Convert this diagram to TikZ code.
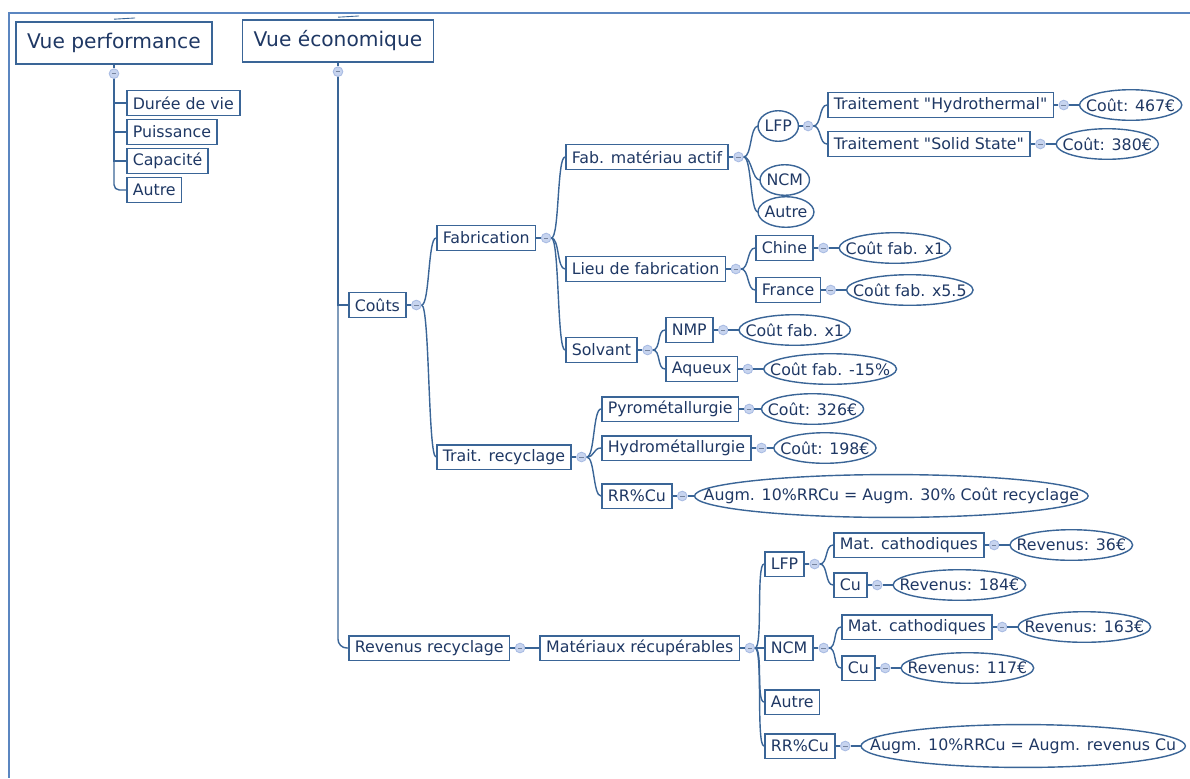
\documentclass[tikz,border=0pt]{standalone}
\usepackage{fontspec}
\setmainfont{DejaVu Sans}
\usetikzlibrary{positioning,calc}
\definecolor{mapline}{HTML}{3A6597}
\definecolor{maptext}{HTML}{1F3864}
\definecolor{knobfill}{HTML}{C7D4EF}
\definecolor{knobdraw}{HTML}{A9BCE3}
\definecolor{framecol}{HTML}{5B86C0}

\begin{document}
\begin{tikzpicture}[x=0.02cm,y=-0.02cm,
  every node/.style={text=maptext,font=\fontsize{9}{10}\selectfont},
  topic/.style={draw=mapline,line width=0.9pt,fill=white,inner xsep=3.4pt,inner ysep=0pt,minimum height=14pt,anchor=west},
  central/.style={topic,anchor=center,inner xsep=6.5pt,minimum height=24pt,font=\fontsize{11.5}{13}\selectfont},
  oval/.style={inner xsep=3.5pt,inner ysep=0pt,minimum height=17pt},
  bigoval/.style={oval,inner xsep=5pt,minimum height=24pt},
  knob/.style={circle,draw=knobdraw,fill=knobfill,line width=0.5pt,minimum size=5.5pt,inner sep=0pt,
    path picture={\draw[knobdraw!70!black,line width=0.4pt] ([xshift=-1.3pt]path picture bounding box.center) -- ([xshift=1.3pt]path picture bounding box.center);}},
  link/.style={draw=mapline,line width=0.8pt},
  twig/.style={to path={.. controls +(8,0) and +(-8,0) .. (\tikztotarget) \tikztonodes}}]
\useasboundingbox (0,0) rectangle (1190,778);
\draw[framecol,line width=0.9pt] (1190,13) -- (9,13) -- (9,778);

\node[central] (perf) at (114,43) {Vue performance};
\node[knob,below=2pt of perf] (perfk) {};
\node[topic] (duree) at (126,103) {Durée de vie};
\node[topic] (puiss) at (126,132) {Puissance};
\node[topic] (capa) at (126,161) {Capacité};
\node[topic] (autreP) at (126,190) {Autre};

\node[central] (eco) at (338,41) {Vue économique};
\node[knob,below=2pt of eco] (ecok) {};
\node[topic] (couts) at (348,305) {Coûts};
\node[knob,right=2.5pt of couts] (coutsk) {};

\node[topic] (fabr) at (436,238) {Fabrication};
\node[knob,right=2.5pt of fabr] (fabrk) {};
\node[topic] (fabmat) at (565,157) {Fab. matériau actif};
\node[knob,right=2.5pt of fabmat] (fabmatk) {};
\node[oval,anchor=west] (lfpA) at (758,126) {LFP};
\node[knob,right=2.5pt of lfpA] (lfpAk) {};
\node[oval,anchor=west] (ncmA) at (760,180) {NCM};
\node[oval,anchor=west] (autA) at (758,212) {Autre};
\node[topic] (hydro) at (827,105) {Traitement \textquotedbl Hydrothermal\textquotedbl};
\node[knob,right=2.5pt of hydro] (hydrok) {};
\node[oval,right=6pt of hydrok] (c467) {Coût: 467€};
\node[topic] (solid) at (827,144) {Traitement \textquotedbl Solid State\textquotedbl};
\node[knob,right=2.5pt of solid] (solidk) {};
\node[oval,right=6pt of solidk] (c380) {Coût: 380€};

\node[topic] (lieu) at (565,269) {Lieu de fabrication};
\node[knob,right=2.5pt of lieu] (lieuk) {};
\node[topic] (chine) at (755,248) {Chine};
\node[knob,right=2.5pt of chine] (chinek) {};
\node[oval,right=6pt of chinek] (cx1) {Coût fab. x1};
\node[topic] (france) at (755,290) {France};
\node[knob,right=2.5pt of france] (francek) {};
\node[oval,right=6pt of francek] (cx55) {Coût fab. x5.5};

\node[topic] (solv) at (565,350) {Solvant};
\node[knob,right=2.5pt of solv] (solvk) {};
\node[topic] (nmp) at (665,330) {NMP};
\node[knob,right=2.5pt of nmp] (nmpk) {};
\node[oval,right=6pt of nmpk] (nx1) {Coût fab. x1};
\node[topic] (aqueux) at (665,369) {Aqueux};
\node[knob,right=2.5pt of aqueux] (aqueuxk) {};
\node[oval,right=6pt of aqueuxk] (aq15) {Coût fab. -15\%};

\node[topic] (trait) at (436,457) {Trait. recyclage};
\node[knob,right=2.5pt of trait] (traitk) {};
\node[topic] (pyro) at (601,409) {Pyrométallurgie};
\node[knob,right=2.5pt of pyro] (pyrok) {};
\node[oval,right=4pt of pyrok] (c326) {Coût: 326€};
\node[topic] (hydromet) at (601,448) {Hydrométallurgie};
\node[knob,right=2.5pt of hydromet] (hydrometk) {};
\node[oval,right=4pt of hydrometk] (c198) {Coût: 198€};
\node[topic] (rrA) at (601,496) {RR\%Cu};
\node[knob,right=2.5pt of rrA] (rrAk) {};
\node[bigoval,right=4pt of rrAk] (augA) {Augm. 10\%RRCu = Augm. 30\% Coût recyclage};

\node[topic] (rev) at (348,648) {Revenus recyclage};
\node[knob,right=2.5pt of rev] (revk) {};
\node[topic,right=8pt of revk] (mat) {Matériaux récupérables};
\node[knob,right=2.5pt of mat] (matk) {};
\node[topic] (lfpB) at (764,564) {LFP};
\node[knob,right=2.5pt of lfpB] (lfpBk) {};
\node[topic] (ncmB) at (764,648) {NCM};
\node[knob,right=2.5pt of ncmB] (ncmBk) {};
\node[topic] (autB) at (764,702) {Autre};
\node[topic] (rrB) at (764,746) {RR\%Cu};
\node[knob,right=2.5pt of rrB] (rrBk) {};
\node[bigoval,right=6pt of rrBk] (augB) {Augm. 10\%RRCu = Augm. revenus Cu};
\node[topic] (matcA) at (833,545) {Mat. cathodiques};
\node[knob,right=2.5pt of matcA] (matcAk) {};
\node[oval,right=6pt of matcAk] (r36) {Revenus: 36€};
\node[topic] (cuA) at (833,585) {Cu};
\node[knob,right=2.5pt of cuA] (cuAk) {};
\node[oval,right=6pt of cuAk] (r184) {Revenus: 184€};
\node[topic] (matcB) at (841,627) {Mat. cathodiques};
\node[knob,right=2.5pt of matcB] (matcBk) {};
\node[oval,right=6pt of matcBk] (r163) {Revenus: 163€};
\node[topic] (cuB) at (841,668) {Cu};
\node[knob,right=2.5pt of cuB] (cuBk) {};
\node[oval,right=6pt of cuBk] (r117) {Revenus: 117€};

\draw[link,line width=0.5pt] ([yshift=1.1pt]perf.north) -- ([xshift=12pt,yshift=1.8pt]perf.north);
\draw[link,line width=0.5pt] ([yshift=1.1pt]eco.north) -- ([xshift=12pt,yshift=1.8pt]eco.north);

\draw[link] (perf.south) -- (perfk.north);
\draw[link] (perfk.south) |- (duree.west);
\draw[link] (perfk.south) |- (puiss.west);
\draw[link] (perfk.south) |- (capa.west);
\draw[link,rounded corners=3pt] (perfk.south) |- (autreP.west);

\draw[link] (eco.south) -- (ecok.north);
\draw[link] (ecok.south) |- (couts.west);
\draw[link,rounded corners=5pt] (ecok.south) |- (rev.west);
\draw[link] (couts.east) -- (coutsk.west);
\draw[link] (coutsk.east) to[twig] (fabr.west);
\draw[link] (coutsk.east) to[twig] (trait.west);

\draw[link] (fabr.east) -- (fabrk.west);
\draw[link] (fabrk.east) to[twig] (fabmat.west);
\draw[link] (fabrk.east) to[twig] (lieu.west);
\draw[link] (fabrk.east) to[twig] (solv.west);
\draw[link] (fabmat.east) -- (fabmatk.west);
\draw[link] (fabmatk.east) to[twig] (lfpA.west);
\draw[link] (fabmatk.east) to[twig] (ncmA.west);
\draw[link] (fabmatk.east) to[twig] (autA.west);
\draw[link] (lfpA.east) -- (lfpAk.west);
\draw[link] (lfpAk.east) to[twig] (hydro.west);
\draw[link] (lfpAk.east) to[twig] (solid.west);
\draw[link] (hydro.east) -- (hydrok.west);
\draw[link] (hydrok.east) -- (c467.west);
\draw[link] (solid.east) -- (solidk.west);
\draw[link] (solidk.east) -- (c380.west);

\draw[link] (lieu.east) -- (lieuk.west);
\draw[link] (lieuk.east) to[twig] (chine.west);
\draw[link] (lieuk.east) to[twig] (france.west);
\draw[link] (chine.east) -- (chinek.west);
\draw[link] (chinek.east) -- (cx1.west);
\draw[link] (france.east) -- (francek.west);
\draw[link] (francek.east) -- (cx55.west);

\draw[link] (solv.east) -- (solvk.west);
\draw[link] (solvk.east) to[twig] (nmp.west);
\draw[link] (solvk.east) to[twig] (aqueux.west);
\draw[link] (nmp.east) -- (nmpk.west);
\draw[link] (nmpk.east) -- (nx1.west);
\draw[link] (aqueux.east) -- (aqueuxk.west);
\draw[link] (aqueuxk.east) -- (aq15.west);

\draw[link] (trait.east) -- (traitk.west);
\draw[link] (traitk.east) to[twig] (pyro.west);
\draw[link] (traitk.east) to[twig] (hydromet.west);
\draw[link] (traitk.east) to[twig] (rrA.west);
\draw[link] (pyro.east) -- (pyrok.west);
\draw[link] (pyrok.east) -- (c326.west);
\draw[link] (hydromet.east) -- (hydrometk.west);
\draw[link] (hydrometk.east) -- (c198.west);
\draw[link] (rrA.east) -- (rrAk.west);
\draw[link] (rrAk.east) -- (augA.west);

\draw[link] (rev.east) -- (revk.west);
\draw[link] (revk.east) -- (mat.west);
\draw[link] (mat.east) -- (matk.west);
\draw[link] (matk.east) to[twig] (lfpB.west);
\draw[link] (matk.east) -- (ncmB.west);
\draw[link] (matk.east) to[twig] (autB.west);
\draw[link] (matk.east) to[twig] (rrB.west);
\draw[link] (lfpB.east) -- (lfpBk.west);
\draw[link] (lfpBk.east) to[twig] (matcA.west);
\draw[link] (lfpBk.east) to[twig] (cuA.west);
\draw[link] (matcA.east) -- (matcAk.west);
\draw[link] (matcAk.east) -- (r36.west);
\draw[link] (cuA.east) -- (cuAk.west);
\draw[link] (cuAk.east) -- (r184.west);
\draw[link] (ncmB.east) -- (ncmBk.west);
\draw[link] (ncmBk.east) to[twig] (matcB.west);
\draw[link] (ncmBk.east) to[twig] (cuB.west);
\draw[link] (matcB.east) -- (matcBk.west);
\draw[link] (matcBk.east) -- (r163.west);
\draw[link] (cuB.east) -- (cuBk.west);
\draw[link] (cuBk.east) -- (r117.west);
\draw[link] (rrB.east) -- (rrBk.west);
\draw[link] (rrBk.east) -- (augB.west);

\foreach \o in {lfpA,ncmA,autA,c467,c380,cx1,cx55,nx1,aq15,c326,c198,augA,r36,r184,r163,r117,augB}
  \draw[link] let \p1=($(\o.east)-(\o.center)$), \p2=($(\o.north)-(\o.center)$) in
    (\o.center) ellipse [x radius=\x1, y radius=\y2];
\end{tikzpicture}
\end{document}
